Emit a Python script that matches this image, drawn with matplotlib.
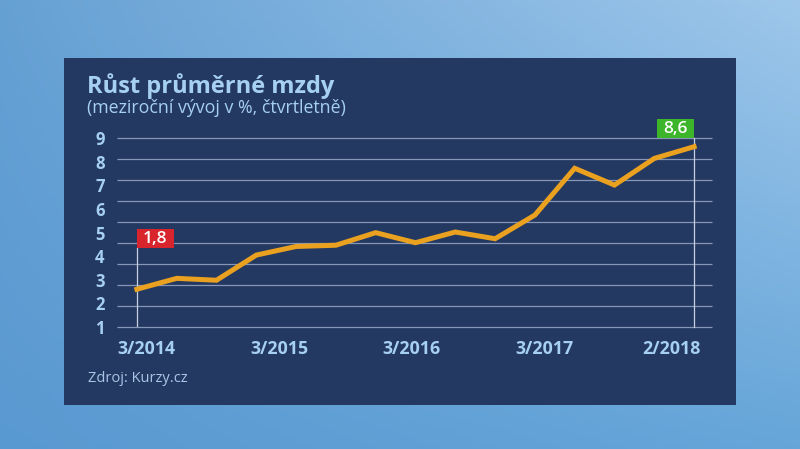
import numpy as np
import matplotlib
matplotlib.use("Agg")
import matplotlib.pyplot as plt
from matplotlib.patches import Rectangle

plt.rcParams['font.family'] = ['Open Sans', 'DejaVu Sans']

# data (year-on-year wage growth, quarterly)
values = [1.8, 2.32, 2.23, 3.43, 3.84, 3.9, 4.5, 4.02, 4.53, 4.21,
          5.34, 7.57, 6.77, 8.04, 8.6]
tick_labels = ['3/2014', '3/2015', '3/2016', '3/2017', '2/2018']
tick_pos = [0.25, 3.59, 6.91, 10.23, 13.43]
y_labels = ['1', '2', '3', '4', '5', '6', '7', '8', '9']
first_label = '1,8'
last_label = '8,6'

W, H = 800, 449
fig = plt.figure(figsize=(W / 100, H / 100), dpi=100)

# blue gradient background
bg = fig.add_axes([0, 0, 1, 1])
bg.set_axis_off()
tl = np.array([0.40, 0.63, 0.83])
tr = np.array([0.62, 0.78, 0.92])
bl = np.array([0.35, 0.60, 0.82])
br = np.array([0.40, 0.65, 0.85])
u = np.linspace(0, 1, 200)[None, :, None]
v = np.linspace(0, 1, 120)[:, None, None]
img = (1 - v) * ((1 - u) * tl + u * tr) + v * ((1 - u) * bl + u * br)
bg.imshow(img, aspect='auto', extent=[0, 1, 0, 1], origin='upper')
bg.set_xlim(0, 1)
bg.set_ylim(0, 1)

# dark panel
bg.add_patch(Rectangle((64 / W, 1 - 405 / H), (736 - 64) / W, (405 - 58) / H,
                       facecolor='#243961', edgecolor='none'))

txt_col = '#a6d0f0'
fig.text(87 / W, 1 - 86 / H, 'Růst průměrné mzdy', color=txt_col,
         fontsize=17, fontweight='bold', va='center', ha='left')
fig.text(87 / W, 1 - 108 / H, '(meziroční vývoj v %, čtvrtletně)', color=txt_col,
         fontsize=12.8, va='center', ha='left')
fig.text(88 / W, 1 - 378 / H, 'Zdroj: Kurzy.cz', color='#a9c6e4',
         fontsize=10.5, va='center', ha='left')

# chart axes
ax = fig.add_axes([117 / W, 1 - 327 / H, (712 - 117) / W, (327 - 138.3) / H])
ax.set_facecolor('none')
ax.set_xlim(-0.5, 14.45)
ax.set_ylim(0, 9)
for s in ax.spines.values():
    s.set_visible(False)

# gridlines at whole units, labels spread evenly (as in the original graphic)
ax.hlines(range(10), -0.5, 14.45, color='#8696b6', linewidth=0.9,
          clip_on=False, zorder=1)
ax.set_yticks(np.linspace(0, 9, 9))
ax.set_yticklabels(y_labels, fontweight='bold')
ax.tick_params(axis='y', length=0, pad=9, labelsize=12, labelcolor=txt_col)

ax.set_xticks(tick_pos)
ax.set_xticklabels(tick_labels, fontweight='bold')
ax.tick_params(axis='x', length=0, pad=9, labelsize=12.8, labelcolor=txt_col)

x = np.arange(len(values))
ax.plot(x, values, color='#e9a11f', linewidth=3.6, solid_joinstyle='miter',
        zorder=3)

# marker lines and value boxes
ax.plot([x[0], x[0]], [0, 3.77], color='#c8d0e0', linewidth=0.9, zorder=2)
ax.plot([x[-1], x[-1]], [0, 9.0], color='#c8d0e0', linewidth=0.9, zorder=2,
        clip_on=False)
bw, bh = 0.93, 0.9
ax.add_patch(Rectangle((x[0], 3.77), bw, bh, facecolor='#d8242c',
                       edgecolor='none', clip_on=False, zorder=4))
ax.text(x[0] + bw / 2, 3.77 + bh / 2, first_label, color='white', fontsize=12.5,
        fontweight='semibold', ha='center', va='center', zorder=5, clip_on=False)
ax.add_patch(Rectangle((x[-1] - bw, 9.0), bw, bh, facecolor='#3db52b',
                       edgecolor='none', clip_on=False, zorder=4))
ax.text(x[-1] - bw / 2, 9.0 + bh / 2, last_label, color='white', fontsize=12.5,
        fontweight='semibold', ha='center', va='center', zorder=5, clip_on=False)

fig.savefig('out.png', dpi=100)
